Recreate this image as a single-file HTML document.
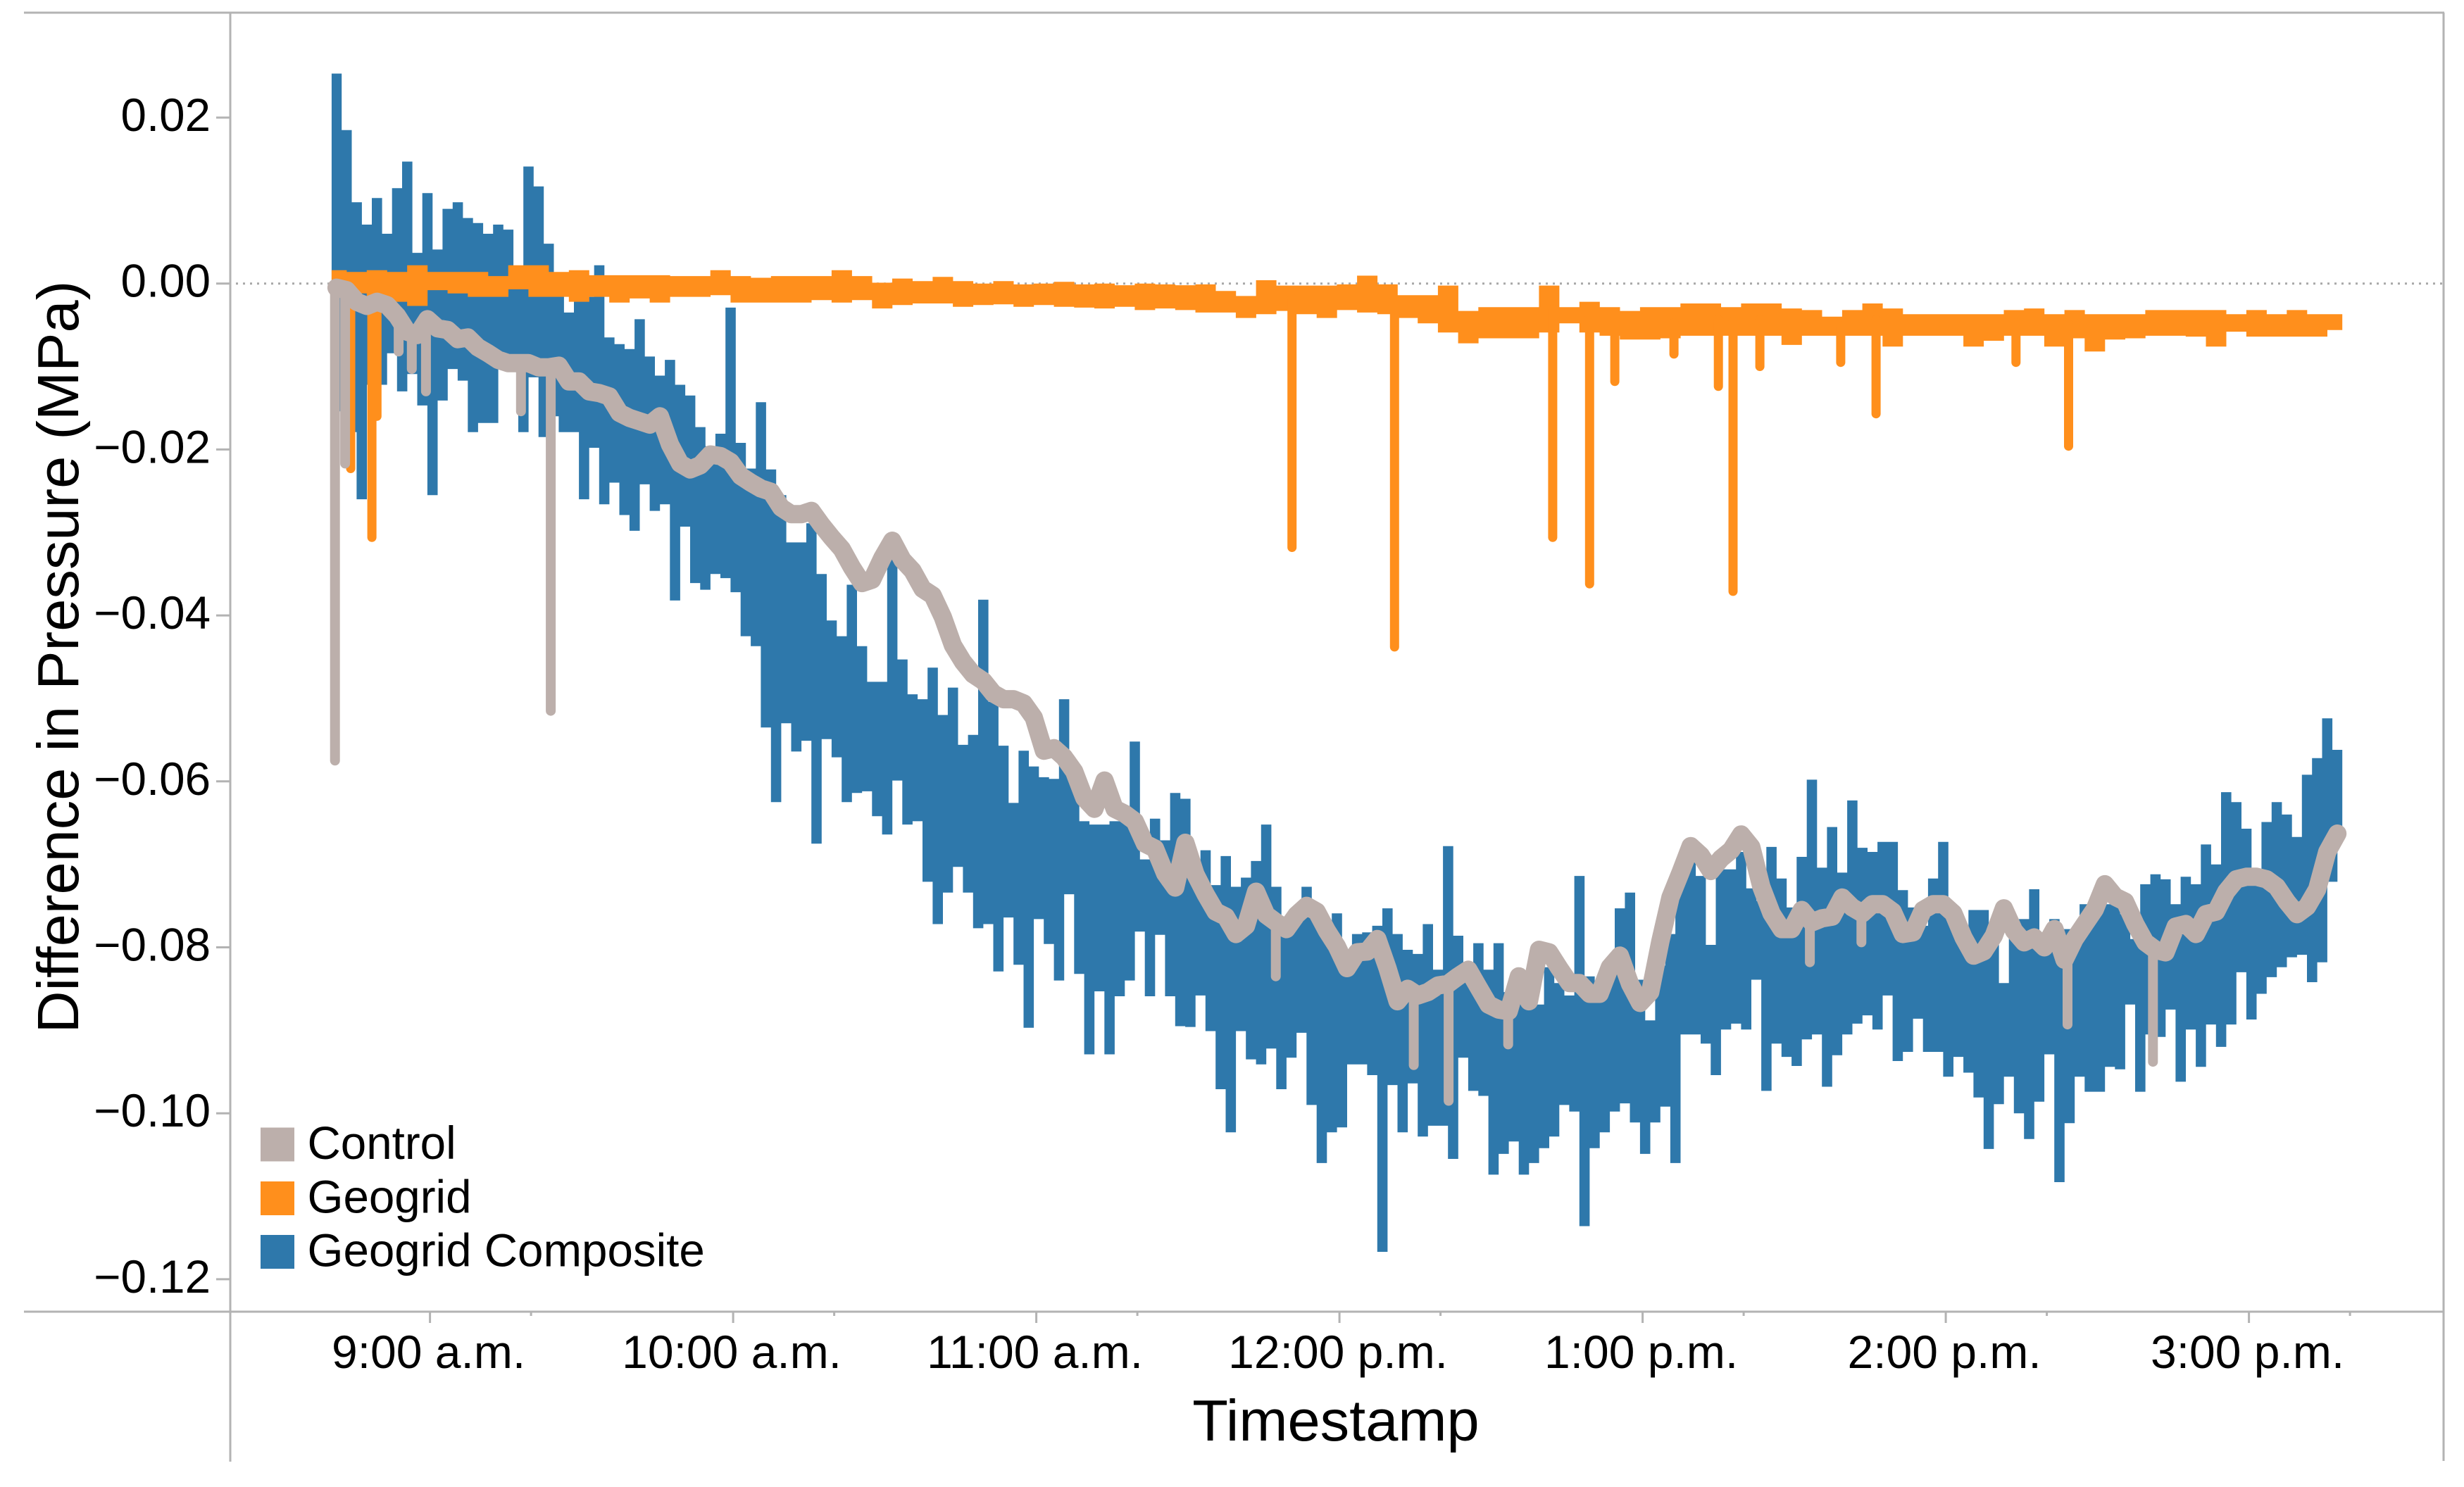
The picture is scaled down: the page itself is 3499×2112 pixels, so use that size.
<!DOCTYPE html>
<html lang="en">
<head>
<meta charset="utf-8">
<title>Difference in Pressure over Time</title>
<style>
html,body{margin:0;padding:0;background:#fff;width:3499px;height:2112px;overflow:hidden}
svg{display:block;position:absolute;left:0;top:0}
text{font-family:"Liberation Sans",Arial,sans-serif;fill:#000}
</style>
</head>
<body>
<svg id="chart" xmlns="http://www.w3.org/2000/svg" width="3499" height="2112" viewBox="0 0 3499 2112">
  <rect x="0" y="0" width="3499" height="2112" fill="#fff"/>
  <g id="marks"></g>
  <g id="axes"></g>
  <line x1="34" x2="3471" y1="18" y2="18" stroke="#b3b3b3" stroke-width="3"/>
  <line x1="34" x2="3471" y1="1863" y2="1863" stroke="#b3b3b3" stroke-width="3"/>
  <line x1="327" x2="327" y1="18" y2="2076" stroke="#b3b3b3" stroke-width="3"/>
  <line x1="3470" x2="3470" y1="18" y2="2075" stroke="#b3b3b3" stroke-width="3"/>
  <text transform="translate(111,933) rotate(-90)" text-anchor="middle" font-size="83">Difference in Pressure (MPa)</text>
  <text x="1897" y="2046" text-anchor="middle" font-size="83">Timestamp</text>
  <g>
    <rect x="370" y="1601.5" width="48" height="48" fill="#bcafab"/>
    <text x="436.5" y="1646" font-size="65.5">Control</text>
    <rect x="370" y="1678" width="48" height="48" fill="#ff8f1c"/>
    <text x="436.5" y="1722.5" font-size="65.5">Geogrid</text>
    <rect x="370" y="1754" width="48" height="48" fill="#2e78ab"/>
    <text x="436.5" y="1798.5" font-size="65.5">Geogrid Composite</text>
  </g>
</svg>
<script>
// Axis data
const yTickValues = [0.02, 0, -0.02, -0.04, -0.06, -0.08, -0.10, -0.12];
const yTickLabels = ["0.02", "0.00", "\u22120.02", "\u22120.04", "\u22120.06", "\u22120.08", "\u22120.10", "\u22120.12"];
const xTickMinutes = [540, 600, 660, 720, 780, 840, 900];
const xTickLabels = ["9:00 a.m.", "10:00 a.m.", "11:00 a.m.", "12:00 p.m.", "1:00 p.m.", "2:00 p.m.", "3:00 p.m."];
const xMinorTickMinutes = [560, 620, 680, 740, 800, 860, 920];

// Series sampling: minutes after midnight of the first reading, and reading interval
const firstReadingMinute = 521.5;
const compositeBinMinutes = 2;
const geogridBinMinutes = 4;
const controlBinMinutes = 2;

// Geogrid Composite: highest reading in each bin (kPa)
const compositeHigh = [
25.3,18.5,9.8,7.1,10.3,6.0,11.5,14.7,3.7,10.9,4.1,9.0,9.8,7.9,7.3,6.0,7.1,6.5,1.4,14.1,11.7,4.8,1.0,-3.5,-1.6,-1.6,2.2,-6.5,
-7.3,-7.9,-4.3,-8.8,-11.1,-9.2,-12.2,-13.5,-17.3,-19.6,-18.1,-2.9,-19.2,-22.3,-14.3,-22.4,-25.5,-31.2,-31.2,-28.9,-35.0,-40.6,-42.5,-36.3,-43.7,-48.0,-48.0,-32.3,
-45.3,-49.5,-50.1,-46.3,-52.0,-48.7,-55.6,-54.4,-38.1,-50.4,-55.7,-62.6,-56.3,-58.2,-59.5,-59.7,-50.1,-58.0,-64.8,-65.2,-65.2,-64.8,-64.8,-55.2,-69.4,-64.5,-67.1,-61.4,
-62.1,-69.9,-68.3,-72.5,-69.0,-72.7,-71.6,-69.6,-65.2,-72.7,-76.3,-75.9,-72.7,-76.7,-77.4,-75.9,-80.5,-78.4,-78.2,-77.4,-75.3,-78.4,-80.3,-80.8,-77.2,-82.7,-67.8,
-78.6,-83.9,-79.5,-82.7,-79.5,-85.4,-84.3,-87.3,-86.9,-82.4,-84.3,-85.8,-71.4,-83.5,-86.5,-83.5,-75.3,-73.4,-83.9,-88.8,-82.2,-78.4,-72.1,-69.2,-71.4,-79.7,-70.6,-70.6,
-68.5,-72.9,-74.4,-67.9,-71.7,-75.2,-69.1,-59.8,-70.4,-65.5,-71.0,-62.3,-68.0,-68.5,-67.3,-67.3,-73.1,-75.2,-77.4,-71.7,-67.3,-76.3,-78.9,-75.5,-75.5,-79.3,-84.3,-78.9,
-76.6,-73.0,-79.0,-76.6,-77.8,-77.8,-74.8,-74.8,-74.8,-74.8,-76.0,-79.0,-72.4,-71.2,-71.8,-74.8,-71.5,-72.4,-67.6,-70.0,-61.3,-62.5,-65.7,-70.6,-64.9,-62.5,-64.0,-66.7,-59.2,-57.2,-52.4,-56.2
];
// Geogrid Composite: lowest reading in each bin (kPa)
const compositeLow = [
-15.4,-17.9,-26.0,-12.2,-12.2,-8.4,-13.0,-10.9,-14.7,-25.5,-14.1,-10.3,-11.7,-17.9,-16.8,-16.8,-10.3,-10.3,-17.9,-11.3,-18.5,-16.0,-17.9,-17.9,-26.0,-19.8,-26.6,-24.0,
-27.9,-29.8,-24.2,-27.4,-26.6,-38.2,-29.3,-36.1,-36.9,-35.0,-35.5,-37.2,-42.5,-43.7,-53.5,-62.5,-53.0,-56.4,-55.1,-67.5,-54.9,-57.1,-62.5,-61.4,-61.2,-64.2,-66.4,-59.9,
-65.2,-64.8,-72.1,-77.2,-73.4,-70.3,-73.4,-77.7,-77.2,-82.9,-76.4,-82.1,-89.7,-76.6,-79.6,-84.0,-73.6,-83.2,-92.9,-85.3,-92.9,-85.9,-84.0,-78.1,-85.9,-78.5,-85.9,-89.5,
-89.6,-85.8,-90.1,-97.1,-102.3,-90.1,-93.5,-94.1,-92.2,-97.1,-93.3,-90.3,-99.0,-106.0,-102.3,-101.7,-94.1,-94.1,-95.4,-116.7,-96.6,-102.3,-96.4,-102.8,-101.5,-101.5,-105.5,
-93.3,-97.3,-97.9,-107.4,-104.9,-103.4,-107.4,-106.0,-104.2,-102.8,-99.0,-99.8,-113.6,-104.2,-102.3,-99.8,-98.8,-101.1,-104.9,-101.1,-99.2,-106.0,-90.5,-90.5,-91.6,-95.4,-89.9,-89.2,
-89.9,-83.9,-97.3,-91.6,-93.2,-94.3,-91.1,-90.5,-96.8,-93.0,-90.5,-89.2,-88.2,-89.9,-85.8,-93.7,-92.6,-88.6,-92.6,-92.6,-95.6,-93.2,-95.1,-98.1,-104.3,-98.9,-95.6,-100.0,
-103.1,-98.6,-92.9,-108.3,-101.2,-95.6,-97.4,-97.4,-94.4,-94.7,-86.9,-97.4,-90.5,-90.8,-87.5,-96.2,-89.9,-94.4,-89.3,-92.0,-89.3,-83.0,-88.7,-85.6,-83.6,-82.4,-81.2,-80.9,-84.2,-81.8,-72.1,-67.0
];

// Geogrid: highest reading in each bin (kPa)
const geogridHigh = [
1.6,1.4,1.6,1.4,2.2,1.4,1.4,1.4,0.9,2.2,2.2,1.4,1.6,1.0,
1.0,1.0,1.0,0.9,0.9,1.6,0.9,0.7,0.9,0.9,0.9,1.6,0.9,0.1,
0.6,0.3,0.8,0.3,0.0,0.3,-0.1,0.0,0.2,-0.1,0.0,-0.2,0.0,-0.1,-0.2,
-0.1,-0.9,-1.5,0.4,-0.25,-0.25,-0.25,-0.1,0.95,-0.1,-1.4,-1.4,-0.25,-3.3,-2.85,-2.85,-2.85,-0.25,-2.85,-2.2,-2.85,-3.3,-2.85,-2.85,-2.4,-2.4,-2.85,-2.4,-2.4,-3.0,-3.2,-4.0,-3.2,-2.4,-3.0,-3.7,-3.7,-3.7,-3.7,-3.7,-3.2,-3.0,-3.7,-3.2,-3.7,-3.7,-3.7,-3.2,-3.2,-3.2,-3.2,-3.7,-3.2,-3.7,-3.2,-3.7,-3.7
];
// Geogrid: lowest reading in each bin (kPa)
const geogridLow = [
-0.5,-1.2,-1.6,-2.2,-2.7,-0.8,-1.2,-1.6,-1.6,-0.7,-1.6,-1.6,-2.2,-1.6,
-2.3,-1.8,-2.3,-1.6,-1.6,-1.4,-2.3,-2.3,-2.3,-2.3,-2.0,-2.3,-2.0,-3.0,
-2.6,-2.4,-2.4,-2.8,-2.6,-2.5,-2.8,-2.6,-2.8,-2.9,-3.0,-2.8,-3.2,-3.0,-3.2,
-3.5,-3.5,-4.15,-3.7,-3.3,-3.7,-4.15,-3.2,-3.5,-3.7,-4.15,-4.8,-5.9,-7.2,-6.6,-6.6,-6.6,-5.9,-4.8,-5.9,-6.3,-6.75,-6.75,-6.6,-6.3,-6.3,-6.3,-6.3,-6.3,-7.4,-6.3,-6.3,-6.3,-6.3,-7.6,-6.3,-6.3,-6.3,-7.6,-6.9,-6.3,-6.3,-7.6,-6.6,-8.2,-6.75,-6.6,-6.3,-6.3,-6.4,-7.6,-5.8,-6.4,-6.4,-6.4,-6.4,-5.6
];
// Geogrid: brief downward excursions
const geogridDropMinutes = [524.3,528.5,529.5,710.6,730.9,762.2,769.5,774.5,786.2,795,797.9,803.2,819.2,826.2,853.9,864.3];
const geogridDropValues = [-22.3,-30.6,-16,-31.8,-43.8,-30.6,-36.2,-11.8,-8.5,-12.4,-37.1,-10,-9.5,-15.7,-9.5,-19.6];

// Control: reading in each bin (kPa)
const controlValues = [
-0.5,-0.8,-2.2,-2.7,-2.2,-2.6,-3.9,-5.8,-6.2,-4.3,-5.4,-5.6,-6.7,-6.5,-7.7,-8.4,-9.2,-9.6,-9.6,-9.6,-10.1,-10.1,-9.9,-11.8,-11.8,-13.0,-13.2,-13.6,
-15.6,-16.2,-16.6,-17.0,-16.0,-19.4,-21.7,-22.4,-21.9,-20.6,-20.8,-21.5,-23.2,-24.0,-24.7,-25.1,-27.0,-27.8,-27.8,-27.4,-29.1,-30.6,-32.0,-34.2,-36.1,-35.7,-33.1,-31.0,
-33.3,-34.6,-36.8,-37.6,-40.2,-43.6,-45.6,-47.1,-47.9,-49.4,-50.1,-50.1,-50.6,-52.3,-56.3,-56,-57.1,-58.8,-62,-63.3,-59.9,-63.3,-63.9,-64.8,-67.5,-68.1,-71.1,-72.8,
-67.4,-71.2,-73.6,-75.7,-76.3,-78.4,-77.4,-73.3,-76.1,-77,-77.8,-76.1,-75,-75.7,-78,-79.9,-82.5,-80.6,-80.5,-79,-82.5,-86.5,-85,-85.8,-85.4,-84.6,-84.4,
-83.5,-82.7,-84.8,-86.9,-87.5,-87.7,-83.5,-86.5,-80.3,-80.6,-82.5,-84.3,-84.3,-85.6,-85.6,-82.4,-81,-84.4,-86.7,-85.4,-79.3,-74,-71,-67.8,-68.9,-70.8,-69.3,-68.3,
-66.4,-67.9,-72.7,-75.9,-77.8,-77.8,-75.5,-77,-76.5,-76.3,-74,-75.2,-75.9,-74.8,-74.8,-75.7,-78.4,-78.2,-75.5,-74.8,-74.8,-75.9,-78.8,-81,-80.5,-78.6,-75.3,-78,
-79.4,-78.8,-80,-77.8,-81.5,-79,-77.2,-75.4,-72.4,-73.9,-74.5,-77.2,-79.4,-80.3,-80.6,-77.5,-77.2,-78.4,-76,-75.7,-73.3,-71.8,-71.5,-71.5,-71.8,-72.7,-74.5,-76,-75.1,-73,-68.5,-66.3
];
// Control: brief downward excursions
const controlDropMinutes = [521.2,523.2,533.8,536.4,539.2,558,563.9,707.4,734.7,741.6,753.4,813.1,823.3,864.1,881];
const controlDropValues = [-57.5,-21.7,-8.2,-10.3,-13,-15.4,-51.5,-83.5,-94.2,-98.5,-91.7,-81.8,-79.4,-89.3,-93.8];

// Axis functions
const SVG_NS = "http://www.w3.org/2000/svg";
function xScale(minute) { return 610.6 + (minute - 540) * 7.175; }
function yScaleMPa(mpa) { return 402.7 - mpa * 11785; }
function yScaleKPa(kpa) { return yScaleMPa(kpa / 1000); }
function make(tag, attrs, parent) {
  const el = document.createElementNS(SVG_NS, tag);
  for (const k in attrs) el.setAttribute(k, attrs[k]);
  parent.appendChild(el);
  return el;
}
function fx(v) { return v.toFixed(1); }

const axes = document.getElementById("axes");
const marks = document.getElementById("marks");

// Clip the block-drawn series to the time span of the readings
const lastReadingMinute = firstReadingMinute + (compositeHigh.length - 1) * compositeBinMinutes;
const clipDefs = make("defs", {}, marks);
const seriesClip = make("clipPath", {id: "series-span"}, clipDefs);
make("rect", {x: fx(xScale(firstReadingMinute) - 7), y: 0, width: fx(xScale(lastReadingMinute) - xScale(firstReadingMinute) + 14), height: 2112}, seriesClip);

// Zero reference line
const zeroLine = make("line", {x1: 335, x2: 3470, y1: fx(yScaleMPa(0)), y2: fx(yScaleMPa(0)), stroke: "#a8a8a8", "stroke-width": 3, "stroke-dasharray": "3 7"}, marks);



// Y ticks
yTickValues.forEach(function (v, i) {
  const y = yScaleMPa(v);
  const tick = make("line", {x1: 307, x2: 327, y1: fx(y), y2: fx(y), stroke: "#b3b3b3", "stroke-width": 3}, axes);
  
  
  const label = make("text", {x: 299, y: fx(y + 19), "text-anchor": "end", "font-size": 65.5}, axes);
  
  
  label.textContent = yTickLabels[i];
});

// X ticks
xTickMinutes.forEach(function (m, i) {
  const x = xScale(m);
  const tick = make("line", {x1: fx(x), x2: fx(x), y1: 1863, y2: 1879, stroke: "#b3b3b3", "stroke-width": 3}, axes);
  
  
  const label = make("text", {x: fx(x - 2), y: 1943, "text-anchor": "middle", "font-size": 66}, axes);
  
  
  label.textContent = xTickLabels[i];
});
xMinorTickMinutes.forEach(function (m) {
  const x = xScale(m);
  const tick = make("line", {x1: fx(x), x2: fx(x), y1: 1863, y2: 1869, stroke: "#b3b3b3", "stroke-width": 3}, axes);
  
  
});

// Geogrid Composite series: each reading column reaches the neighbouring readings so the body stays solid
let compositePath = "";
compositeHigh.forEach(function (hi, k) {
  const lo = compositeLow[k];
  const t = firstReadingMinute + k * compositeBinMinutes;
  const prevLo = k > 0 ? compositeLow[k - 1] : lo;
  const nextHi = k < compositeHigh.length - 1 ? compositeHigh[k + 1] : hi;
  const highColumnFloor = Math.max(prevLo, lo);
  const lowColumnCeiling = Math.min(hi, nextHi);
  compositePath += "M" + fx(xScale(t)) + " " + fx(yScaleKPa(hi)) + "V" + fx(yScaleKPa(highColumnFloor));
  compositePath += "M" + fx(xScale(t + compositeBinMinutes / 2)) + " " + fx(yScaleKPa(lowColumnCeiling)) + "V" + fx(yScaleKPa(lo));
});
const compositeLine = make("path", {d: compositePath, fill: "none", stroke: "#2e78ab", "stroke-width": 14.6, "clip-path": "url(#series-span)"}, marks);



// Geogrid series
let geogridPath = "";
geogridHigh.forEach(function (hi, k) {
  const x = xScale(firstReadingMinute + k * geogridBinMinutes);
  geogridPath += "M" + fx(x) + " " + fx(yScaleKPa(hi)) + "V" + fx(yScaleKPa(geogridLow[k]));
});
const geogridLine = make("path", {d: geogridPath, fill: "none", stroke: "#ff8f1c", "stroke-width": 29, "clip-path": "url(#series-span)"}, marks);



let geogridDropPath = "";
geogridDropMinutes.forEach(function (m, i) {
  const k = Math.min(geogridHigh.length - 1, Math.max(0, Math.round((m - firstReadingMinute) / geogridBinMinutes)));
  const start = (geogridHigh[k] + geogridLow[k]) / 2;
  geogridDropPath += "M" + fx(xScale(m)) + " " + fx(yScaleKPa(start)) + "V" + fx(yScaleKPa(geogridDropValues[i]));
});
const geogridDrops = make("path", {d: geogridDropPath, fill: "none", stroke: "#ff8f1c", "stroke-width": 13, "stroke-linecap": "round"}, marks);



// Control series
let controlDropPath = "";
controlDropMinutes.forEach(function (m, i) {
  const k = Math.min(controlValues.length - 1, Math.max(0, Math.round((m - firstReadingMinute) / controlBinMinutes)));
  controlDropPath += "M" + fx(xScale(m)) + " " + fx(yScaleKPa(controlValues[k])) + "V" + fx(yScaleKPa(controlDropValues[i]));
});
const controlDrops = make("path", {d: controlDropPath, fill: "none", stroke: "#bcafab", "stroke-width": 14, "stroke-linecap": "round"}, marks);



const controlPoints = controlValues.map(function (v, k) {
  return fx(xScale(firstReadingMinute + k * controlBinMinutes)) + "," + fx(yScaleKPa(v));
}).join(" ");
const controlLine = make("polyline", {points: controlPoints, fill: "none", stroke: "#bcafab", "stroke-width": 26, "stroke-linejoin": "round", "stroke-linecap": "round"}, marks);


</script>
</body>
</html>
